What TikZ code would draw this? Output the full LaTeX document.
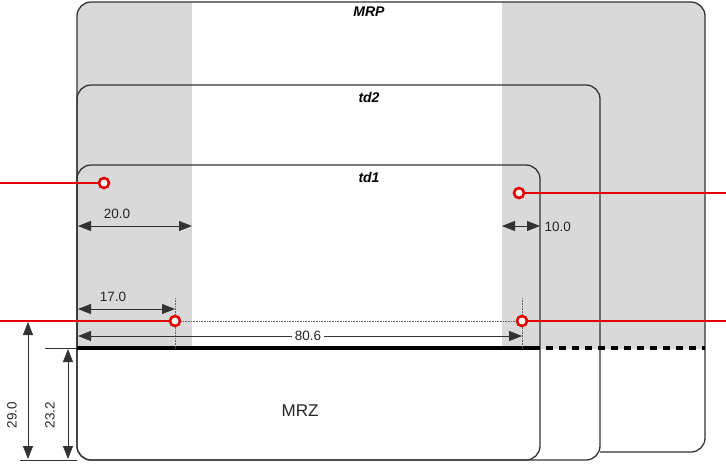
\documentclass[tikz,border=0pt]{standalone}
\usepackage{fontspec}
\setmainfont{Liberation Sans}
\usetikzlibrary{arrows.meta}
\begin{document}
\begin{tikzpicture}[x=1pt,y=-1pt,
  card/.style={draw=black!80,line width=1.3pt,rounded corners=14pt},
  redline/.style={draw=red!90!black,line width=2pt},
  redpt/.style={circle,draw=red!90!black,fill=white,line width=2.6pt,minimum size=10pt,inner sep=0pt},
  dim/.style={draw=black!80,line width=0.8pt,{Triangle[length=13pt,width=10pt]}-{Triangle[length=13pt,width=10pt]}},
  lbl/.style={font=\fontsize{13.5}{14}\selectfont,text=black!85},
  title/.style={font=\fontsize{14}{15}\selectfont\bfseries\itshape},
  dotl/.style={draw=black!60,densely dotted,line width=0.6pt}]
\useasboundingbox (0,0) rectangle (726,472);
\fill[black!15,rounded corners=14pt] (77,2) rectangle (705,452);
\fill[white] (192,0) rectangle (502,348);
\fill[white] (77,348.5) rectangle (705,453);
\draw[card] (77,348) -- (77,2) -- (705,2) -- (705,452) -- (77,452) -- cycle;
\fill[white] (77,349) rectangle (600,460);
\draw[card] (77,460) -- (77,85) -- (600,85) -- (600,460) -- cycle;
\draw[card] (77,460) -- (77,165) -- (540,165) -- (540,460) -- cycle;
\node[title] (mrp) at (369,12) {MRP};
\node[title] (td2) at (369,97) {td2};
\node[title] (td1) at (369,177) {td1};
\draw[line width=3.5pt] (77,348) -- (540,348);
\draw[line width=3.5pt,dash pattern=on 7pt off 6pt] (546,348) -- (705,348);
\node[font=\fontsize{17}{18}\selectfont,text=black!85] (mrz) at (300,411) {MRZ};
% dotted guides
\draw[dotl] (175,298) -- (175,348);
\draw[dotl] (522,298) -- (522,348);
\draw[dotl] (175,321) -- (522,321);
% red lines
\coordinate (l1) at (0,183); \coordinate (r1) at (726,193);
\coordinate (l2) at (0,321); \coordinate (r2) at (726,321);
\node[redpt] (p1) at (104,183) {};
\node[redpt] (p2) at (519,193) {};
\node[redpt] (p3) at (175,321) {};
\node[redpt] (p4) at (522,321) {};
\draw[redline] (l1) -- (p1); \draw[redline] (p2) -- (r1);
\draw[redline] (l2) -- (p3); \draw[redline] (p4) -- (r2);
% dimensions
\draw[dim] (78,226) -- (192,226);
\node[lbl] (d20) at (117,214) {20.0};
\draw[dim] (502,226) -- (540,226);
\node[lbl,anchor=west] (d10) at (541,227) {10.0};
\draw[dim] (78,309) -- (175,309);
\node[lbl] (d17) at (113,297) {17.0};
\draw[dim] (78,336) -- (522,336);
\node[lbl,fill=white,inner sep=3pt] (d80) at (308,336) {80.6};
% vertical dims
\draw[draw=black!80,line width=0.8pt] (20,460) -- (77,460);
\draw[draw=black!80,line width=0.8pt] (45,348) -- (77,348);
\draw[dim] (28,322) -- (28,459);
\draw[dim] (68,349) -- (68,459);
\node[lbl,rotate=90] (d29) at (12,415) {29.0};
\node[lbl,rotate=90] (d23) at (50,415) {23.2};
\end{tikzpicture}
\end{document}
